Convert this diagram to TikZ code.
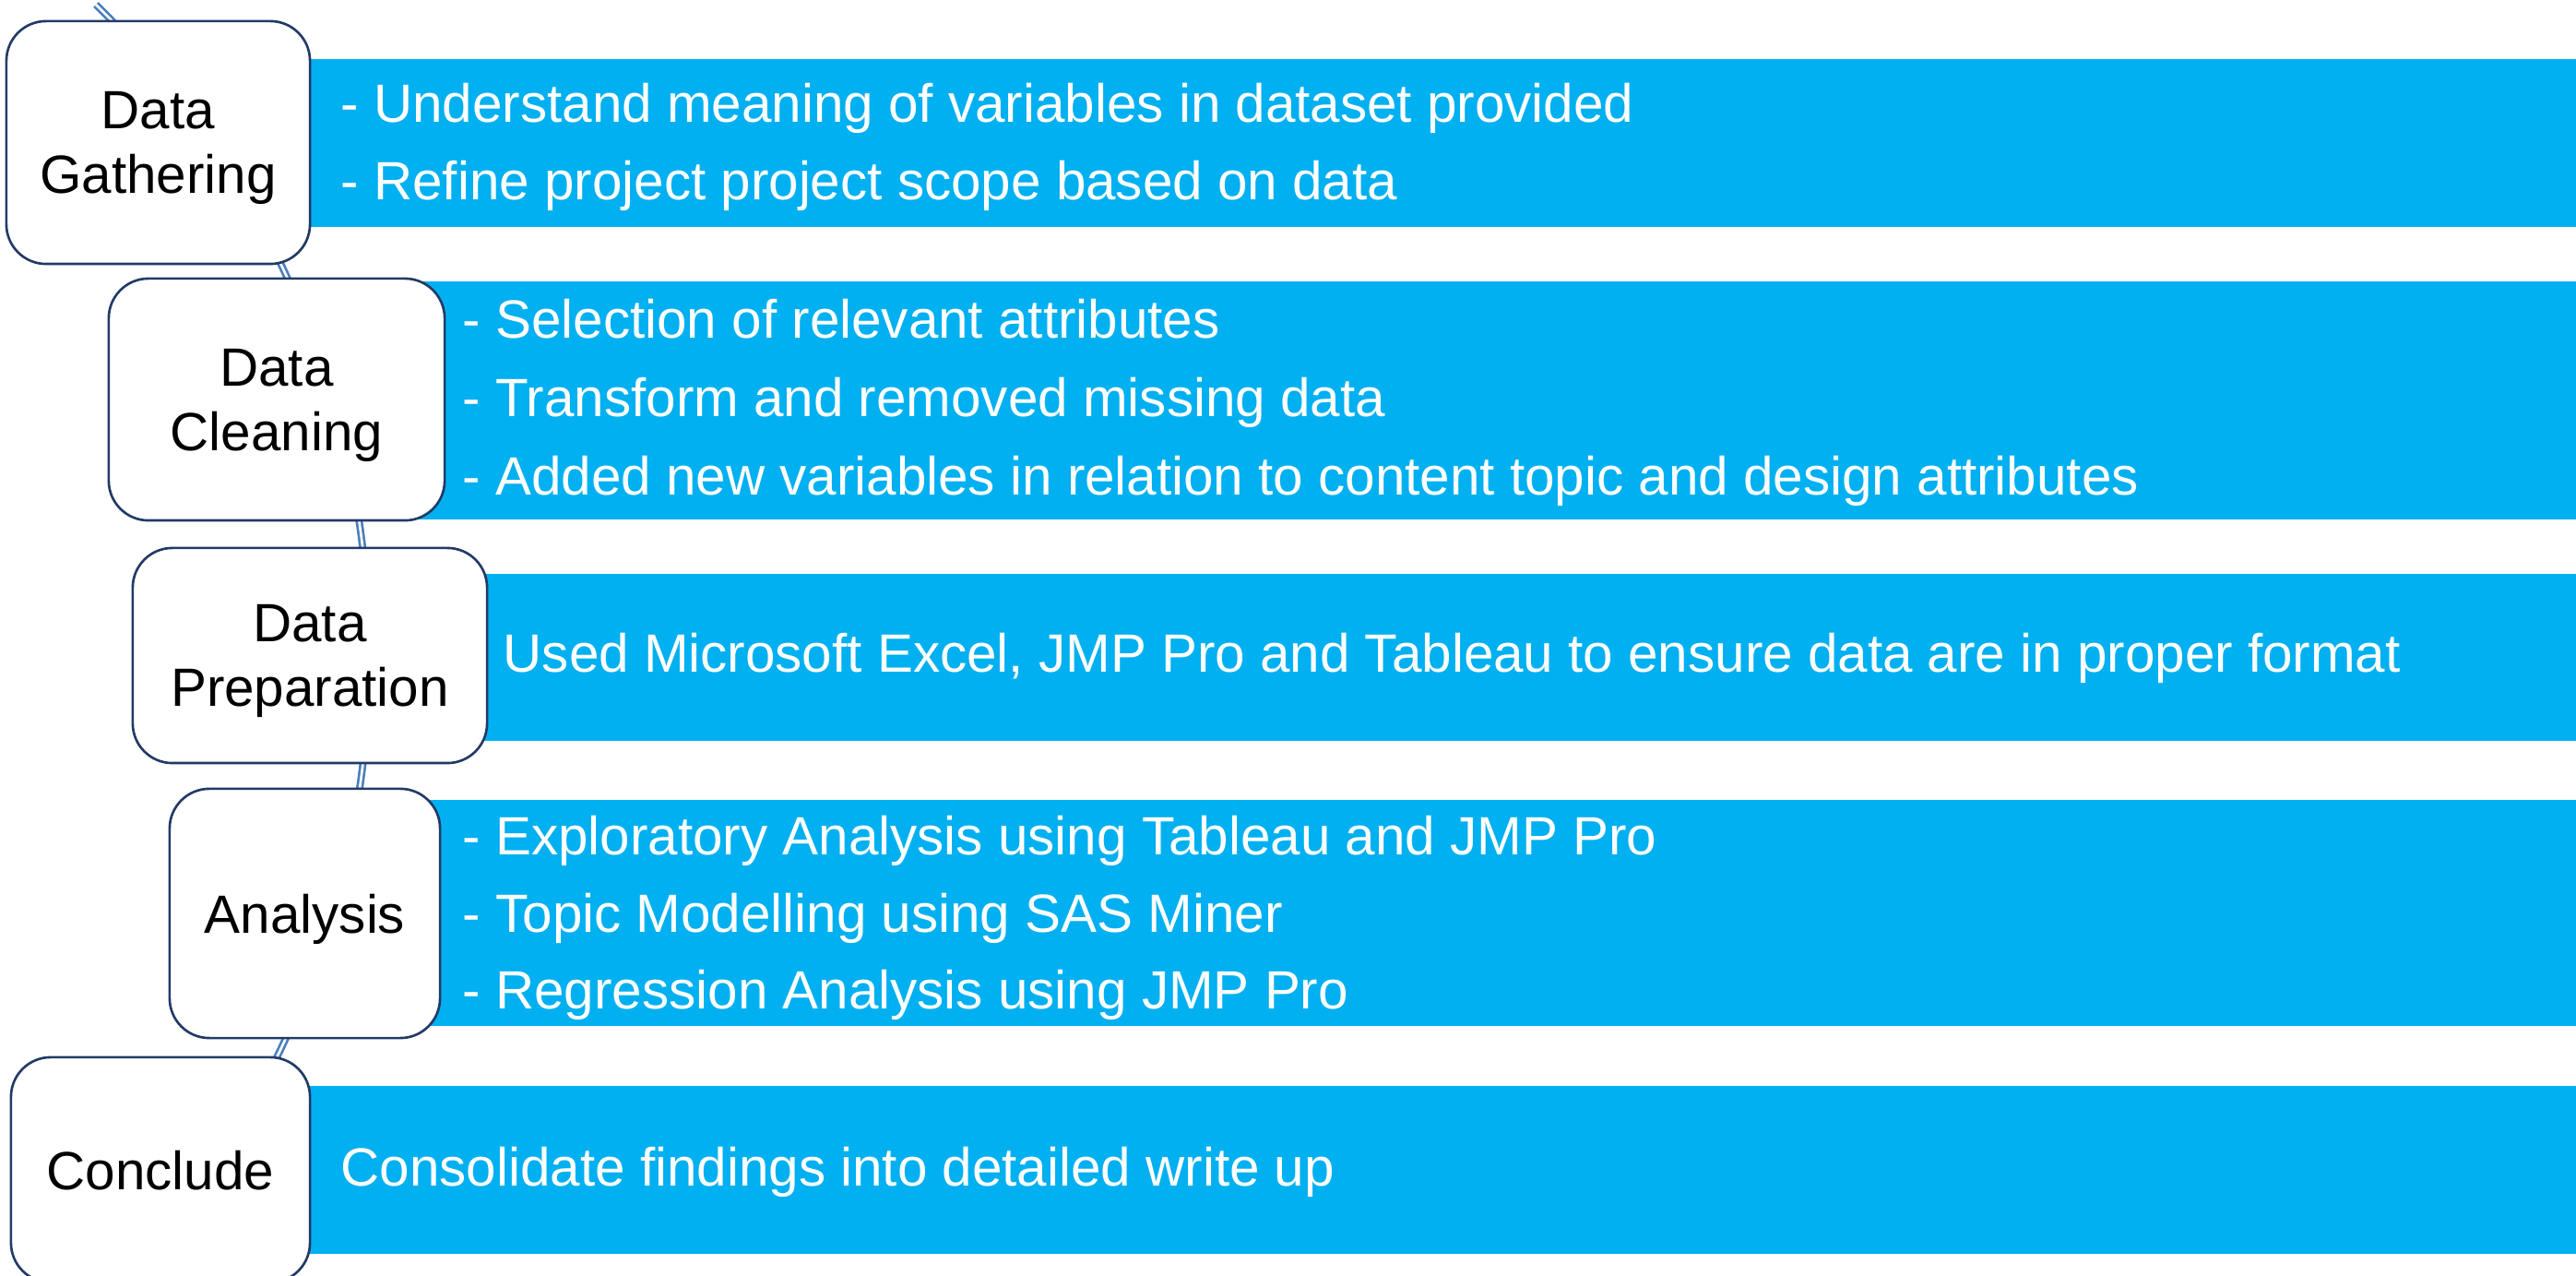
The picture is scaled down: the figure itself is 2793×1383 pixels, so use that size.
\documentclass[tikz,border=0pt]{standalone}
\usepackage{fontspec}
\setmainfont{Liberation Sans}
\definecolor{bandblue}{HTML}{00B0F0}
\definecolor{boxline}{HTML}{223A66}
\definecolor{spineblue}{HTML}{4A7EBB}
\begin{document}
\begin{tikzpicture}[x=0.01cm, y=-0.01cm,
  stepbox/.style={draw=boxline, line width=0.75pt, fill=white, rounded corners=0.43cm,
    inner sep=0pt, align=center, text=black, text depth=0pt, font=\fontsize{16.6}{19.9}\selectfont},
  band/.style={fill=bandblue, draw=none, inner sep=0pt, anchor=west, minimum width=25.6cm},
  bandtext/.style={text=white, inner sep=0pt, anchor=base west, font=\fontsize{16.6}{19.9}\selectfont},
  spine/.style={draw=spineblue, double=white, double distance=0.75pt, line width=0.75pt}
]
\useasboundingbox (0,0) rectangle (2793,1383);
\clip (0,0) rectangle (2793,1383);

% curved spine running behind the steps
\coordinate (spinetop) at (104,5);
\draw[spine] (spinetop) arc[start angle=45.5, end angle=-40, radius=9.9cm];

% blue description bands
\node[band, minimum height=1.82cm] (band1) at (250,155) {};
\node[band, minimum height=2.58cm] (band2) at (250,434) {};
\node[band, minimum height=1.81cm] (band3) at (250,712.5) {};
\node[band, minimum height=2.45cm] (band4) at (250,989.5) {};
\node[band, minimum height=1.82cm] (band5) at (250,1268) {};

% step boxes
\node[stepbox, minimum width=3.29cm, minimum height=2.63cm] (gather) at (171.5,154.5) {Data\\Gathering};
\node[stepbox, minimum width=3.64cm, minimum height=2.62cm] (clean) at (300,433) {Data\\Cleaning};
\node[stepbox, minimum width=3.84cm, minimum height=2.33cm] (prep) at (336,710.5) {Data\\Preparation};
\node[stepbox, minimum width=2.93cm, minimum height=2.70cm] (analysis) at (330.5,990) {Analysis};
\node[stepbox, minimum width=3.24cm, minimum height=2.44cm] (conclude) at (174,1268) {Conclude};

% band texts
\node[bandtext] (g1) at (369,133) {- Understand meaning of variables in dataset provided};
\node[bandtext] (g2) at (369,217) {- Refine project project scope based on data};

\node[bandtext] (c1) at (501,367) {- Selection of relevant attributes};
\node[bandtext] (c2) at (501,452) {- Transform and removed missing data};
\node[bandtext] (c3) at (501,537) {- Added new variables in relation to content topic and design attributes};

\node[bandtext] (p1) at (545,729) {Used Microsoft Excel, JMP Pro and Tableau to ensure data are in proper format};

\node[bandtext] (a1) at (501,927) {- Exploratory Analysis using Tableau and JMP Pro};
\node[bandtext] (a2) at (501,1011) {- Topic Modelling using SAS Miner};
\node[bandtext] (a3) at (501,1094) {- Regression Analysis using JMP Pro};

\node[bandtext] (k1) at (369,1285) {Consolidate findings into detailed write up};
\end{tikzpicture}
\end{document}
